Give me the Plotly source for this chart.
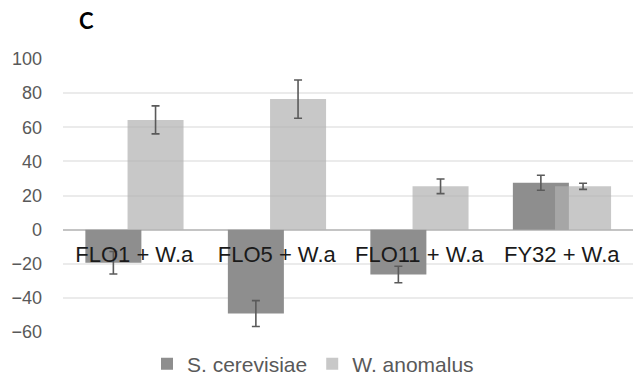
import plotly.graph_objects as go

# Flocculation pairings and the response of each yeast species (%)
categories = ["FLO1 + W.a", "FLO5 + W.a", "FLO11 + W.a", "FY32 + W.a"]
s_cerevisiae = [-19.4, -49.2, -26.3, 27.5]
s_cerevisiae_err = [6.6, 7.6, 4.8, 4.4]
w_anomalus = [64.3, 76.5, 25.4, 25.4]
w_anomalus_err = [8.2, 11.2, 4.3, 1.8]

series_names = ["S. cerevisiae", "W. anomalus"]
y_ticks = [-60, -40, -20, 0, 20, 40, 60, 80, 100]

DARK = "#8e8e8e"
LIGHT = "rgba(176,176,176,0.7)"
ERR = "#5a5a5a"
BAR_W = 0.393

fig = go.Figure()
fig.add_trace(go.Bar(
    name=series_names[0], x=categories, y=s_cerevisiae,
    width=BAR_W, offset=-0.343, marker=dict(color=DARK, line=dict(width=0)),
    error_y=dict(type="data", array=s_cerevisiae_err, color=ERR, thickness=1.6, width=4),
))
fig.add_trace(go.Bar(
    name=series_names[1], x=categories, y=w_anomalus,
    width=BAR_W, offset=-0.047, marker=dict(color=LIGHT, line=dict(width=0)),
    error_y=dict(type="data", array=w_anomalus_err, color=ERR, thickness=1.6, width=4),
))

fig.update_layout(
    width=634, height=378,
    margin=dict(l=63, r=1, t=59, b=46, autoexpand=False),
    paper_bgcolor="white", plot_bgcolor="white",
    barmode="overlay",
    showlegend=True,
    legend=dict(
        orientation="h", x=147 / 634, xref="container", xanchor="left",
        y=14 / 378, yref="container", yanchor="middle",
        font=dict(family="Liberation Sans, Arial, sans-serif", size=21, color="#595959"),
        itemwidth=30, traceorder="normal",
    ),
    title=dict(
        text="<b>C</b>", x=79 / 634, xanchor="left", y=1 - 14 / 378, yanchor="top",
        font=dict(family="Lato, Open Sans, sans-serif", size=22, color="black"),
    ),
    xaxis=dict(
        type="category", range=[-0.5, 3.5],
        anchor="free", position=0.375,
        showgrid=False, showline=False, zeroline=False, ticks="",
        ticklabelstandoff=9, automargin=False,
        tickfont=dict(family="Liberation Sans, Arial, sans-serif", size=22, color="#1a1a1a"),
    ),
    yaxis=dict(
        range=[-60, 100], tickvals=y_ticks,
        showgrid=True, gridcolor="#ebebeb", gridwidth=1.5,
        zeroline=True, zerolinecolor="#c4c4c4", zerolinewidth=2,
        showline=False, ticks="", ticklabelstandoff=20, automargin=False,
        tickfont=dict(family="Liberation Sans, Arial, sans-serif", size=18, color="#595959"),
    ),
)

fig.write_html("out.html")
